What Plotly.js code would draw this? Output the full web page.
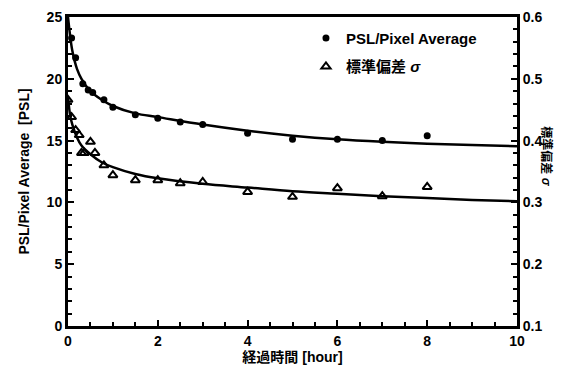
<!DOCTYPE html>
<html>
<head>
<meta charset="utf-8">
<script src="https://cdn.plot.ly/plotly-3.0.1.min.js"></script>
<style>html,body{margin:0;padding:0;background:#fff;}#chart{width:578px;height:371px;}</style>
</head>
<body>
<div id="chart"></div>
<script>
// PSL/Pixel Average measured points (left axis)
var pslTime = [0.08, 0.17, 0.33, 0.45, 0.55, 0.8, 1.0, 1.5, 2, 2.5, 3, 4, 5, 6, 7, 8];
var pslValue = [23.3, 21.7, 19.6, 19.1, 18.9, 18.3, 17.7, 17.1, 16.8, 16.5, 16.3, 15.6, 15.1, 15.1, 15.0, 15.4];

// Standard deviation sigma measured points (right axis)
var sigTime = [0, 0.08, 0.17, 0.25, 0.3, 0.36, 0.5, 0.6, 0.8, 1.0, 1.5, 2, 2.5, 3, 4, 5, 6, 7, 8];
var sigValue = [0.466, 0.438, 0.417, 0.409, 0.38, 0.38, 0.398, 0.38, 0.36, 0.344, 0.336, 0.336, 0.331, 0.333, 0.317, 0.309, 0.323, 0.310, 0.325];

// Fitted curves
var fitTime = [0, 0.05, 0.1, 0.2, 0.3, 0.5, 0.75, 1, 1.5, 2, 3, 4, 5, 6, 7, 8, 9, 10];
var pslFit = [25, 23.4, 22.2, 20.8, 20.0, 19.0, 18.3, 17.8, 17.2, 16.9, 16.3, 15.8, 15.4, 15.1, 14.9, 14.75, 14.65, 14.55];
var sigFit = [0.47, 0.44, 0.425, 0.405, 0.392, 0.378, 0.365, 0.357, 0.346, 0.339, 0.330, 0.324, 0.318, 0.314, 0.310, 0.307, 0.304, 0.302];

var legendNames = ["PSL/Pixel Average", "標準偏差 <i>σ</i>"];

var FONT = "Liberation Sans, Arial, Noto Sans CJK JP, sans-serif";

var traces = [
  {x: fitTime, y: pslFit, mode: "lines", line: {color: "#000", width: 2.5, shape: "spline"}, showlegend: false, hoverinfo: "skip"},
  {x: fitTime, y: sigFit, yaxis: "y2", mode: "lines", line: {color: "#000", width: 2.5, shape: "spline"}, showlegend: false, hoverinfo: "skip"},
  {x: pslTime, y: pslValue, mode: "markers", name: legendNames[0], legendgroup: "a", marker: {symbol: "circle", size: 7, color: "#000"}},
  {x: sigTime, y: sigValue, yaxis: "y2", mode: "markers", name: legendNames[1], legendgroup: "b", marker: {symbol: "triangle-up-open", size: 8, color: "#000", line: {width: 2, color: "#000"}}}
];

var layout = {
  width: 578, height: 371,
  margin: {l: 68, r: 61, t: 17, b: 45},
  paper_bgcolor: "#fff", plot_bgcolor: "#fff",
  font: {family: FONT, color: "#000"},
  showlegend: true,
  legend: {x: 0.53, y: 0.985, xanchor: "left", yanchor: "top", bgcolor: "rgba(0,0,0,0)",
           font: {family: FONT, size: 15, weight: "bold"}, tracegroupgap: 6, itemsizing: "trace"},
  xaxis: {
    range: [0, 10], dtick: 2, tick0: 0, showgrid: false, zeroline: false,
    showline: true, linewidth: 3, linecolor: "#000", mirror: true,
    ticks: "inside", ticklen: 6, tickwidth: 2, tickcolor: "#000",
    minor: {dtick: 0.5, ticks: "inside", ticklen: 4, tickwidth: 2, tickcolor: "#000", showgrid: false},
    tickfont: {family: FONT, size: 14, weight: "bold"},
    title: {text: "経過時間 [hour]", font: {family: FONT, size: 14, weight: "bold"}, standoff: 2}
  },
  yaxis: {
    range: [0, 25], dtick: 5, tick0: 0, showgrid: false, zeroline: false,
    showline: true, linewidth: 3, linecolor: "#000",
    ticks: "inside", ticklen: 6, tickwidth: 2, tickcolor: "#000",
    minor: {dtick: 1, ticks: "inside", ticklen: 4, tickwidth: 2, tickcolor: "#000", showgrid: false},
    tickfont: {family: FONT, size: 14, weight: "bold"},
    title: {text: "PSL/Pixel Average  [PSL]", font: {family: FONT, size: 14, weight: "bold"}, standoff: 14}
  },
  yaxis2: {
    overlaying: "y", side: "right",
    range: [0.1, 0.6], dtick: 0.1, tick0: 0.1, showgrid: false, zeroline: false,
    showline: true, linewidth: 3, linecolor: "#000",
    ticks: "inside", ticklen: 6, tickwidth: 2, tickcolor: "#000",
    minor: {dtick: 0.02, ticks: "inside", ticklen: 4, tickwidth: 2, tickcolor: "#000", showgrid: false},
    tickfont: {family: FONT, size: 14, weight: "bold"}
  },
  annotations: [{
    text: "標準偏差 <i>σ</i>", xref: "paper", yref: "paper", x: 1.045, y: 0.55,
    xanchor: "left", yanchor: "middle", textangle: 90, showarrow: false,
    font: {family: FONT, size: 12, weight: "bold"}
  }]
};

Plotly.newPlot("chart", traces, layout, {displayModeBar: false, staticPlot: true});
</script>
</body>
</html>
